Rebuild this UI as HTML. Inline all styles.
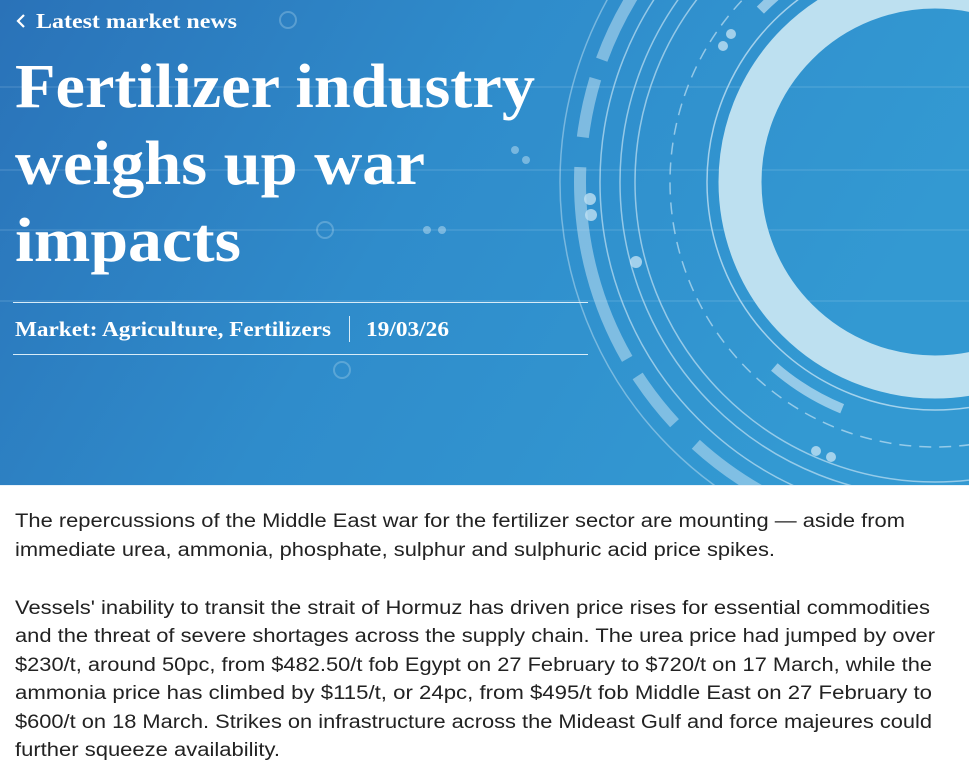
<!DOCTYPE html>
<html><head><meta charset="utf-8"><style>
html,body{margin:0;padding:0;background:#fff;width:969px;height:782px;overflow:hidden}
svg{display:block}
</style></head><body>
<svg width="969" height="782" viewBox="0 0 969 782" xmlns="http://www.w3.org/2000/svg">
<defs>
<linearGradient id="bg" x1="0" y1="0" x2="1" y2="0.3">
<stop offset="0" stop-color="#2a72b8"/><stop offset="0.5" stop-color="#2f8ccb"/><stop offset="1" stop-color="#3399d2"/>
</linearGradient>
<clipPath id="hc"><rect x="0" y="0" width="969" height="485"/></clipPath>
</defs>
<rect x="0" y="0" width="969" height="485" fill="url(#bg)"/>
<g clip-path="url(#hc)" fill="none" stroke="#bfe0f2">
<line x1="0" y1="87" x2="969" y2="87" stroke-opacity="0.25"/>
<line x1="0" y1="170" x2="969" y2="170" stroke-opacity="0.25"/>
<line x1="0" y1="230" x2="969" y2="230" stroke-opacity="0.25"/>
<line x1="0" y1="301" x2="969" y2="301" stroke-opacity="0.25"/>
<circle cx="935" cy="182" r="195" stroke-width="43" stroke="#bde0f0"/>
<circle cx="935" cy="182" r="228" stroke-width="1.5" stroke-opacity="0.8"/>
<circle cx="935" cy="182" r="265" stroke-width="1.5" stroke-dasharray="12 8" stroke-opacity="0.7"/>
<circle cx="935" cy="182" r="300" stroke-width="1.5" stroke-opacity="0.7"/>
<circle cx="935" cy="182" r="315" stroke-width="1.5" stroke-opacity="0.7"/>
<circle cx="935" cy="182" r="335" stroke-width="1.5" stroke-opacity="0.7"/>
<circle cx="935" cy="182" r="355" stroke-width="12" stroke-opacity="0.55" stroke-dasharray="200 30 60 20"/>
<circle cx="935" cy="182" r="375" stroke-width="1.5" stroke-opacity="0.5"/>
<circle cx="935" cy="182" r="245" stroke-width="10" stroke-opacity="0.7" stroke-dasharray="80 400"/>
<circle cx="325" cy="230" r="8" stroke-opacity="0.3" stroke-width="2"/>
<circle cx="342" cy="370" r="8" stroke-opacity="0.3" stroke-width="2"/>
<circle cx="288" cy="20" r="8" stroke-opacity="0.3" stroke-width="2"/>
</g>
<g fill="#bfe0f2" fill-opacity="0.8">
<circle cx="590" cy="199" r="6"/><circle cx="591" cy="215" r="6"/>
<circle cx="636" cy="262" r="6"/><circle cx="816" cy="451" r="5"/><circle cx="831" cy="457" r="5"/>
<circle cx="731" cy="34" r="5"/><circle cx="723" cy="46" r="5"/>
<circle cx="515" cy="150" r="4" fill-opacity="0.5"/><circle cx="526" cy="160" r="4" fill-opacity="0.5"/>
<circle cx="427" cy="230" r="4" fill-opacity="0.5"/><circle cx="442" cy="230" r="4" fill-opacity="0.5"/>
</g>
<line x1="0" y1="485.5" x2="969" y2="485.5" stroke="#e8f2fa" stroke-width="1"/>
<g fill="#fff" font-family="'Liberation Serif',serif" font-weight="bold">
<path d="M24 15 L18 21 L24 27" stroke="#fff" stroke-width="2.2" fill="none"/>
<text x="36" y="28" font-size="21" textLength="201" lengthAdjust="spacingAndGlyphs">Latest market news</text>
<text x="15" y="107" font-size="62" textLength="520" lengthAdjust="spacingAndGlyphs">Fertilizer industry</text>
<text x="15" y="184" font-size="62" textLength="410" lengthAdjust="spacingAndGlyphs">weighs up war</text>
<text x="15" y="261" font-size="62" textLength="226" lengthAdjust="spacingAndGlyphs">impacts</text>
<text x="15" y="336" font-size="21" textLength="316" lengthAdjust="spacingAndGlyphs">Market: Agriculture, Fertilizers</text>
<text x="366" y="336" font-size="21" textLength="83" lengthAdjust="spacingAndGlyphs">19/03/26</text>
</g>
<line x1="13" y1="302.5" x2="588" y2="302.5" stroke="#d8ecf8" stroke-width="1"/>
<line x1="13" y1="354.5" x2="588" y2="354.5" stroke="#d8ecf8" stroke-width="1"/>
<line x1="349.5" y1="316" x2="349.5" y2="342" stroke="#d8ecf8" stroke-width="1"/>
<g fill="#222" font-family="'Liberation Sans',sans-serif" font-size="19">
<text x="15" y="527" textLength="890" lengthAdjust="spacingAndGlyphs">The repercussions of the Middle East war for the fertilizer sector are mounting — aside from</text>
<text x="15" y="556" textLength="760" lengthAdjust="spacingAndGlyphs">immediate urea, ammonia, phosphate, sulphur and sulphuric acid price spikes.</text>
<text x="15" y="614" textLength="915" lengthAdjust="spacingAndGlyphs">Vessels' inability to transit the strait of Hormuz has driven price rises for essential commodities</text>
<text x="15" y="642" textLength="920" lengthAdjust="spacingAndGlyphs">and the threat of severe shortages across the supply chain. The urea price had jumped by over</text>
<text x="15" y="671" textLength="917" lengthAdjust="spacingAndGlyphs">$230/t, around 50pc, from $482.50/t fob Egypt on 27 February to $720/t on 17 March, while the</text>
<text x="15" y="699" textLength="917" lengthAdjust="spacingAndGlyphs">ammonia price has climbed by $115/t, or 24pc, from $495/t fob Middle East on 27 February to</text>
<text x="15" y="728" textLength="917" lengthAdjust="spacingAndGlyphs">$600/t on 18 March. Strikes on infrastructure across the Mideast Gulf and force majeures could</text>
<text x="15" y="756" textLength="265" lengthAdjust="spacingAndGlyphs">further squeeze availability.</text>
</g>
</svg>
</body></html>
